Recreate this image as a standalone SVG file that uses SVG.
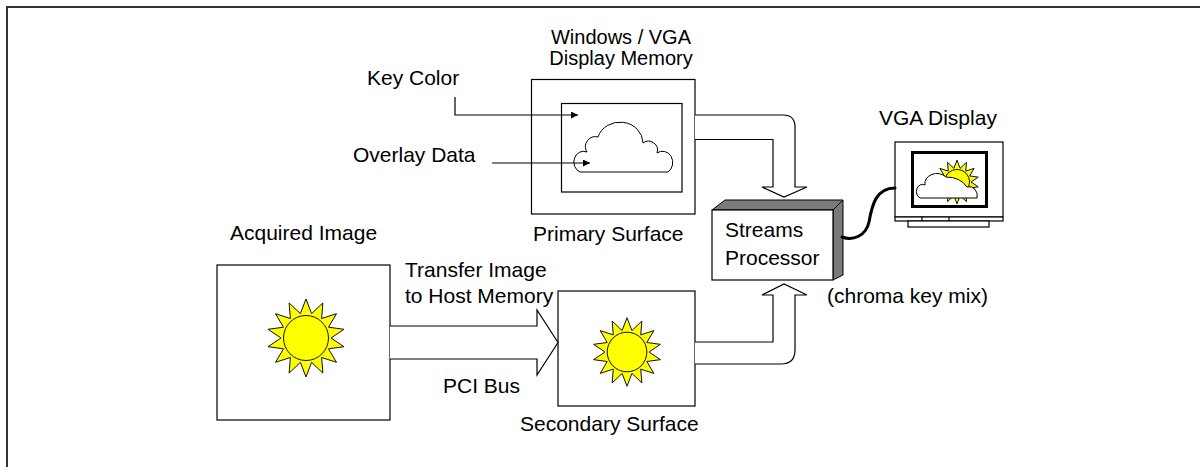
<svg xmlns="http://www.w3.org/2000/svg" xmlns:xlink="http://www.w3.org/1999/xlink" width="1200" height="467" viewBox="0 0 1200 467">
  <style>
    text { font-family: "Liberation Sans", Arial, sans-serif; font-size: 21px; fill: #000; }
    .box { fill: #fff; stroke: #000; stroke-width: 1.2; }
    .line { fill: none; stroke: #000; stroke-width: 1.2; }
    .pipe { fill: #fff; stroke: #000; stroke-width: 1.2; stroke-linejoin: miter; }
    .face { fill: #7a7a7a; stroke: #000; stroke-width: 1; }
    .ray { fill: #ffff00; stroke: #111; stroke-width: 1; vector-effect: non-scaling-stroke; }
    .cloud { fill: #fff; stroke: #000; stroke-width: 1; }
    .title { font-size: 20px; }
  </style>
  <defs>
    <marker id="tip" viewBox="0 0 8 8" refX="8" refY="4" markerWidth="7" markerHeight="7" markerUnits="userSpaceOnUse" orient="auto">
      <path d="M0,0 L8,4 L0,8 Z" fill="#000"/>
    </marker>
    <!-- 14-ray sun, radius 39 at scale 1 -->
    <g id="sun">
      <polygon class="ray" points="0,-39 5.6,-24.4 16.9,-35.1 15.6,-19.5 30.5,-24.3 22.5,-10.8 38,-8.7 25,0 38,8.7 22.5,10.8 30.5,24.3 15.6,19.5 16.9,35.1 5.6,24.4 0,39 -5.6,24.4 -16.9,35.1 -15.6,19.5 -30.5,24.3 -22.5,10.8 -38,8.7 -25,0 -38,-8.7 -22.5,-10.8 -30.5,-24.3 -15.6,-19.5 -16.9,-35.1 -5.6,-24.4"/>
      <circle class="ray" cx="0" cy="0" r="22.5"/>
    </g>
  </defs>

  <rect width="1200" height="467" fill="#fff"/>
  <!-- page frame (top and left edges) -->
  <path d="M7,467 V7 H1200" fill="none" stroke="#333" stroke-width="2"/>

  <!-- labels for the overlay arrows -->
  <g id="key-color">
    <text x="367" y="85">Key Color</text>
  </g>
  <g id="overlay-data">
    <text x="353" y="162">Overlay Data</text>
  </g>

  <g id="primary-surface">
    <text class="title" x="621" y="44" text-anchor="middle">Windows / VGA</text>
    <text class="title" x="621" y="65" text-anchor="middle">Display Memory</text>
    <rect class="box" x="531.5" y="79.5" width="163.5" height="134.5"/>
    <rect class="box" x="561.5" y="103.5" width="120.5" height="88.5"/>
    <path class="cloud" d="M580,172 H668 A10,11 0 0 0 657,153 A9,9 0 0 0 643,143 A23,21 0 0 0 598,137 A10,10 0 0 0 587,152 A9,10 0 0 0 580,172 Z"/>
    <text x="533" y="241">Primary Surface</text>
  </g>

  <g id="acquired-image">
    <text x="230" y="240">Acquired Image</text>
    <rect class="box" x="217" y="265" width="173" height="155"/>
    <use xlink:href="#sun" transform="translate(306,338)"/>
  </g>

  <g id="transfer-labels">
    <text x="405" y="277">Transfer Image</text>
    <text x="405" y="303">to Host Memory</text>
    <text x="443" y="393">PCI Bus</text>
  </g>

  <g id="secondary-surface">
    <rect class="box" x="558" y="291" width="137" height="115"/>
    <use xlink:href="#sun" transform="translate(627,352) scale(0.88)"/>
    <text x="520" y="431">Secondary Surface</text>
  </g>

  <g id="streams-processor">
    <polygon class="face" points="712,210 725,200 843,200 833,210"/>
    <polygon class="face" points="833,210 843,200 843,275 833,280"/>
    <rect class="box" x="712" y="210" width="121" height="70"/>
    <text x="725" y="237">Streams</text>
    <text x="725" y="265">Processor</text>
    <text x="827" y="303">(chroma key mix)</text>
  </g>

  <g id="vga-display">
    <text x="879" y="125">VGA Display</text>
    <rect class="box" x="895" y="142" width="108" height="75"/>
    <rect x="912.5" y="152.5" width="74" height="54" fill="#fff" stroke="#000" stroke-width="3"/>
    <use xlink:href="#sun" transform="translate(957,182) scale(0.56)"/>
    <path class="cloud" d="M920,198 H977 A8,9 0 0 0 967,187 A24,20 0 0 0 946,177 A12,10 0 0 0 925,185 A6,7 0 0 0 920,198 Z"/>
    <rect class="box" x="895" y="217" width="108" height="4"/>
    <path class="line" d="M922,217 V221 M949,217 V221"/>
    <rect class="box" x="908" y="221" width="81" height="6"/>
  </g>

  <!-- connectors -->
  <g id="connectors">
    <path class="line" d="M455,97 V115 H578" marker-end="url(#tip)"/>
    <path class="line" d="M492,163 H590" marker-end="url(#tip)"/>
    <!-- primary surface to streams processor -->
    <path class="pipe" d="M695,115 H783 Q795,115 795,127 V187 H807 L784,197 L762,187 H773 V139.5 H695"/>
    <!-- secondary surface to streams processor -->
    <path class="pipe" d="M695,342 H773 V295 H762 L784,284 L807,295 H795 V350 Q795,364 781,364 H695"/>
    <!-- PCI bus transfer -->
    <path class="pipe" d="M390,326 H537 V310 L558,342.5 L537,375 V359 H390"/>
    <!-- video cable -->
    <path d="M842,237 C853,241 866,236 869,222 C872,205 876,188 895,188" fill="none" stroke="#000" stroke-width="3" stroke-linecap="round"/>
  </g>
</svg>
